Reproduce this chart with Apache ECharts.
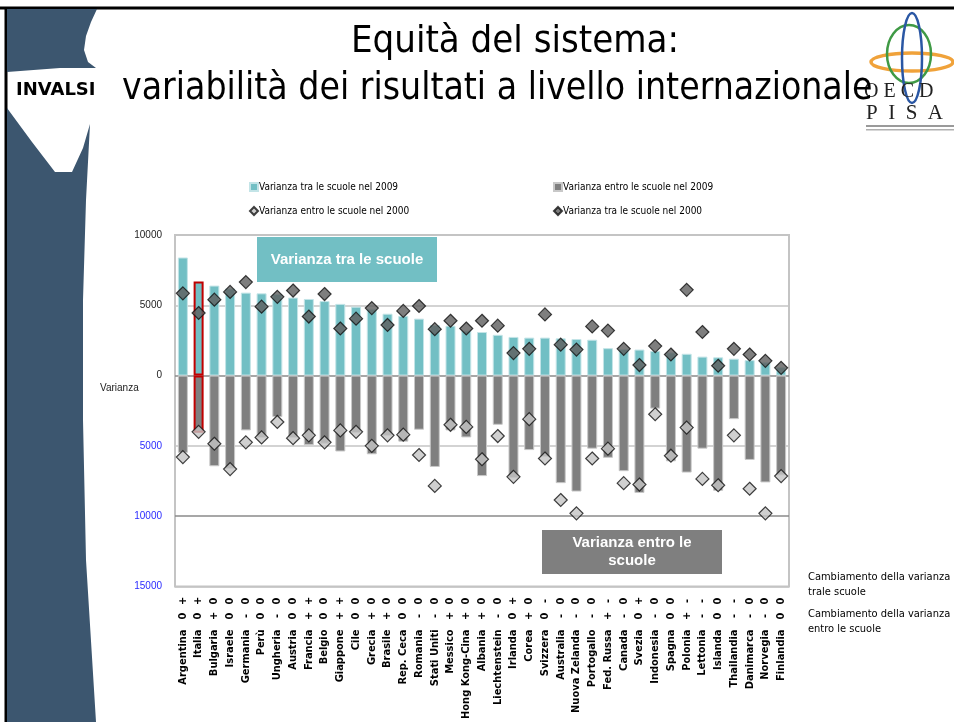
<!DOCTYPE html>
<html>
<head>
<meta charset="utf-8">
<script src="https://cdn.jsdelivr.net/npm/echarts@6/dist/echarts.min.js"></script>
<style>
html,body{margin:0;padding:0;background:#fff;}
#main{width:954px;height:722px;}
</style>
</head>
<body>
<div id="main"></div>
<script>
// paesi, ordinati come nel grafico
var paesi = ['Argentina','Italia','Bulgaria','Israele','Germania','Perù','Ungheria','Austria','Francia','Belgio',
  'Giappone','Cile','Grecia','Brasile','Rep. Ceca','Romania','Stati Uniti','Messico','Hong Kong-Cina','Albania',
  'Liechtenstein','Irlanda','Corea','Svizzera','Australia','Nuova Zelanda','Portogallo','Fed. Russa','Canada','Svezia',
  'Indonesia','Spagna','Polonia','Lettonia','Islanda','Thailandia','Danimarca','Norvegia','Finlandia'];

// varianza tra le scuole 2009 (barre azzurre)
var tra2009 = [8400,6700,6400,6200,5900,5850,5800,5550,5450,5300,
  5100,4900,4750,4400,4250,4050,3600,3550,3200,3100,
  2900,2750,2700,2700,2650,2600,2550,1950,1900,1850,
  1750,1650,1550,1350,1300,1200,1100,950,600];

// varianza entro le scuole 2009 (barre grigie, verso il basso)
var entro2009 = [5500,4070,6450,6650,3900,4450,2950,4450,4950,4850,
  5400,4100,5600,4300,4700,3850,6500,3900,4400,7150,
  3500,7300,5300,5800,7650,8250,5200,5850,6800,8350,
  2350,6100,6900,5200,8200,3100,6000,7600,7100];

// rombi scuri: varianza tra le scuole 2000
var tra2000 = [5850,4450,5400,5950,6650,4900,5600,6050,4200,5800,
  3350,4050,4800,3600,4600,4950,3300,3900,3350,3900,
  3550,1600,1900,4350,2200,1850,3500,3200,1900,750,
  2100,1500,6100,3100,700,1900,1500,1050,550];

// rombi chiari: varianza entro le scuole 2000
var entro2000 = [5800,4000,4850,6650,4750,4400,3300,4450,4250,4750,
  3900,4000,5000,4250,4200,5650,7850,3500,3650,5950,
  4300,7200,3100,5900,8850,9800,5900,5200,7650,7750,
  2750,5700,3700,7350,7800,4250,8050,9800,7150];

// cambiamento della varianza
var cambioTra = ['+','+','0','0','0','0','0','0','+','0','+','0','0','0','0','0','0','0','0','0',
  '0','+','0','-','0','0','0','-','0','+','0','0','-','-','0','-','0','0','0'];
var cambioEntro = ['0','0','+','0','-','0','-','0','+','0','+','0','+','+','0','-','-','+','+','+',
  '-','0','+','0','-','-','-','+','-','0','-','0','+','-','0','-','-','-','0'];

var NARROW = '"Liberation Sans Narrow","DejaVu Sans Condensed",sans-serif';
var TEAL = '#72bfc4', GRAY = '#7f7f7f';

function neg(arr){ return arr.map(function(v){ return -v; }); }

var barTra = tra2009.map(function(v,i){
  if(paesi[i]=='Italia') return {value:v, itemStyle:{borderColor:'#c00000',borderWidth:2}};
  return v;
});
var barEntro = neg(entro2009).map(function(v,i){
  if(paesi[i]=='Italia') return {value:v, itemStyle:{borderColor:'#c00000',borderWidth:2}};
  return v;
});

var chart = echarts.init(document.getElementById('main'));
var option = {
  animation:false,
  backgroundColor:'#fff',
  legend:[{
    left:244, top:177, orient:'vertical', itemGap:14, itemWidth:8, itemHeight:8,
    textStyle:{fontFamily:NARROW,fontSize:10,color:'#000',padding:[0,0,0,-4]},
    data:[{name:'Varianza tra le scuole nel 2009',icon:'rect'},
          {name:'Varianza entro le scuole nel 2000',icon:'diamond'}]
  },{
    left:548, top:177, orient:'vertical', itemGap:14, itemWidth:8, itemHeight:8,
    textStyle:{fontFamily:NARROW,fontSize:10,color:'#000',padding:[0,0,0,-4]},
    data:[{name:'Varianza entro le scuole nel 2009',icon:'rect'},
          {name:'Varianza tra le scuole nel 2000',icon:'diamond'}]
  }],
  grid:{left:175,right:165,top:235,bottom:135,show:true,borderColor:'#c4c4c4',borderWidth:2},
  xAxis:{
    type:'category', data:paesi,
    axisLine:{show:false,onZero:false}, axisTick:{show:false},
    axisLabel:{
      interval:0, rotate:90, margin:7,
      formatter:function(v,i){
        return '{n|'+v+'}{a|'+cambioEntro[i]+'}{b|'+cambioTra[i]+'}';
      },
      rich:{
        n:{fontFamily:NARROW,fontWeight:'bold',fontSize:11,color:'#000',padding:[0,6,0,0]},
        a:{fontFamily:NARROW,fontWeight:'bold',fontSize:11,color:'#000',width:15,align:'center'},
        b:{fontFamily:NARROW,fontWeight:'bold',fontSize:11,color:'#000',width:15,align:'center'}
      }
    }
  },
  yAxis:{
    type:'value', min:-15000, max:10000, interval:5000,
    axisLine:{show:false}, axisTick:{show:false},
    splitLine:{lineStyle:{color:['#c4c4c4','#8a8a8a','#c4c4c4','#8a8a8a','#c4c4c4','#c4c4c4'],width:1.5}},
    axisLabel:{
      margin:13, fontSize:10, fontFamily:'"Liberation Sans",sans-serif',
      formatter:function(v){ return String(Math.abs(v)); },
      color:function(v){ return Number(v) < 0 ? '#2b2bff' : '#222'; }
    }
  },
  series:[{
    name:'Varianza tra le scuole nel 2009', type:'bar', data:barTra,
    barWidth:10, barGap:'-100%',
    itemStyle:{color:TEAL,borderColor:'#c3e4e7',borderWidth:1}
  },{
    name:'Varianza entro le scuole nel 2009', type:'bar', data:barEntro,
    barWidth:10,
    itemStyle:{color:GRAY,borderColor:'#c8c8c8',borderWidth:1}
  },{
    name:'Varianza tra le scuole nel 2000', type:'scatter', data:tra2000,
    symbol:'diamond', symbolSize:13, z:5,
    itemStyle:{color:'#5e5e5e',borderColor:'#111',borderWidth:1.2}
  },{
    name:'Varianza entro le scuole nel 2000', type:'scatter', data:neg(entro2000),
    symbol:'diamond', symbolSize:13, z:5,
    itemStyle:{color:'#c4c4c4',borderColor:'#111',borderWidth:1.2}
  }],
  graphic:[
    // cornice
    {type:'line',shape:{x1:0,y1:8,x2:954,y2:8},style:{stroke:'#000',lineWidth:3}},
    {type:'line',shape:{x1:6,y1:8,x2:6,y2:722},style:{stroke:'#000',lineWidth:3}},
    // decorazione a sinistra
    {type:'polygon',shape:{points:[[7,9],[97,9],[91,22],[86,36],[84,50],[88,62],[96,68],[60,68],[7,72]]},
      style:{fill:'#3c566f'}},
    {type:'polygon',shape:{points:[[7,108],[32,142],[55,172],[72,172],[83,148],[90,124],[86,200],[83,300],[83,420],[86,560],[96,722],[7,722]]},
      style:{fill:'#3c566f'}},
    // logo OECD PISA
    {type:'ellipse',shape:{cx:912,cy:62,rx:41,ry:9},style:{fill:'none',stroke:'#f0a23a',lineWidth:3.5}},
    {type:'ellipse',shape:{cx:909,cy:54,rx:22,ry:29},style:{fill:'none',stroke:'#3f9a45',lineWidth:2.5}},
    {type:'ellipse',shape:{cx:912,cy:58,rx:10,ry:45},style:{fill:'none',stroke:'#2a57a4',lineWidth:2.5}},
    {type:'text',x:864,y:92,style:{text:'O E C D',font:'20px "Liberation Serif",serif',fill:'#222',textVerticalAlign:'middle'}},
    {type:'text',x:866,y:113,style:{text:'P  I  S  A',font:'21px "Liberation Serif",serif',fill:'#222',textVerticalAlign:'middle'}},
    {type:'rect',shape:{x:866,y:125,width:88,height:2},style:{fill:'#9a9a9a'}},
    {type:'rect',shape:{x:866,y:129,width:88,height:1.5},style:{fill:'#b0b0b0'}},
    // titolo
    {type:'text',x:515,y:42,style:{text:'Equità del sistema:',font:'38px '+NARROW,fill:'#000',textAlign:'center',textVerticalAlign:'middle'}},
    {type:'text',x:122,y:89,style:{text:'variabilità dei risultati a livello internazionale',font:'37px '+NARROW,fill:'#000',textAlign:'left',textVerticalAlign:'middle'}},
    {type:'text',x:16,y:90,style:{text:'INVALSI',font:'bold 18px "DejaVu Sans",sans-serif',fill:'#000',textAlign:'left',textVerticalAlign:'middle'}},
    // riquadri
    {type:'rect',shape:{x:257,y:237,width:180,height:45},style:{fill:TEAL}},
    {type:'text',x:347,y:260,style:{text:'Varianza tra le scuole',font:'bold 15px "Liberation Sans",sans-serif',fill:'#fff',textAlign:'center',textVerticalAlign:'middle'}},
    {type:'rect',shape:{x:542,y:530,width:180,height:44},style:{fill:GRAY}},
    {type:'text',x:632,y:552,style:{text:'Varianza entro le\nscuole',font:'bold 15px "Liberation Sans",sans-serif',fill:'#fff',textAlign:'center',textVerticalAlign:'middle',lineHeight:18}},
    // etichette
    {type:'text',x:100,y:388,style:{text:'Varianza',font:'10px "Liberation Sans",sans-serif',fill:'#222',textVerticalAlign:'middle'}},
    {type:'text',x:808,y:585,style:{text:'Cambiamento della varianza\ntrale scuole',font:'11px '+NARROW,fill:'#000',textVerticalAlign:'middle',lineHeight:15}},
    {type:'text',x:808,y:622,style:{text:'Cambiamento della varianza\nentro le scuole',font:'11px '+NARROW,fill:'#000',textVerticalAlign:'middle',lineHeight:15}}
  ]
};
chart.setOption(option);
</script>
</body>
</html>
